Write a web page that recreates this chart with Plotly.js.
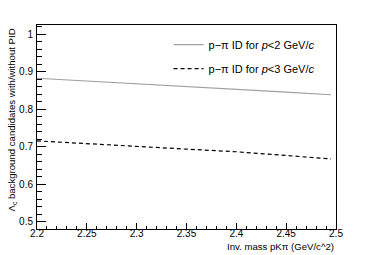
<!DOCTYPE html>
<html><head><meta charset="utf-8">
<script src="https://cdn.plot.ly/plotly-3.0.1.min.js"></script>
<style>body{margin:0;background:#fff}#c{width:374px;height:255px}</style>
</head><body><div id="c"></div>
<script>
var mass = [2.2, 2.25, 2.3, 2.35, 2.4, 2.45, 2.495];
var ratioP2 = [0.882, 0.875, 0.868, 0.860, 0.852, 0.845, 0.838];
var ratioP3 = [0.715, 0.707, 0.700, 0.693, 0.686, 0.676, 0.667];
var name1 = 'p\u2212\u03c0 ID for <i>p</i><2 GeV/<i>c</i>';
var name2 = 'p\u2212\u03c0 ID for <i>p</i><3 GeV/<i>c</i>';
var font = 'Liberation Sans, Arial, sans-serif';
var data = [
  {x: mass, y: ratioP2, mode: 'lines', name: name1, legendgroup: 'a',
   line: {color: '#a0a0a0', width: 1.2}},
  {x: mass, y: ratioP3, mode: 'lines', name: name2, legendgroup: 'b',
   line: {color: '#000', width: 1.2, dash: '4px,3px'}}
];
var layout = {
  width: 374, height: 255,
  margin: {l: 37, r: 38, t: 25, b: 26},
  paper_bgcolor: '#fff', plot_bgcolor: '#fff',
  font: {family: font, size: 10, color: '#000'},
  showlegend: true,
  legend: {x: 0.44, y: 0.975, xanchor: 'left', yanchor: 'top', bgcolor: 'rgba(0,0,0,0)',
           font: {family: font, size: 11, color: '#000'}, tracegroupgap: 5, traceorder: 'grouped'},
  xaxis: {range: [2.2, 2.5], showgrid: false, zeroline: false, showline: true, mirror: true,
          linecolor: '#000', linewidth: 1, ticks: 'inside', ticklen: 6, tickcolor: '#000',
          dtick: 0.05, tick0: 2.2, tickfont: {size: 10, family: font}, ticklabelstandoff: -5,
          minor: {dtick: 0.01, ticks: 'inside', ticklen: 3, tickcolor: '#000'}},
  yaxis: {range: [0.48, 1.024], showgrid: false, zeroline: false, showline: true, mirror: true,
          linecolor: '#000', linewidth: 1, ticks: 'inside', ticklen: 9, tickcolor: '#000',
          dtick: 0.1, tick0: 0.5, tickfont: {size: 10, family: font}, ticklabelstandoff: 1,
          minor: {dtick: 0.02, ticks: 'inside', ticklen: 5, tickcolor: '#000'}},
  annotations: [
    {xref: 'paper', yref: 'paper', x: 1, y: 0, yshift: -10, xanchor: 'right', yanchor: 'top',
     text: 'Inv. mass pK\u03c0 (GeV/c^2)', showarrow: false, font: {size: 9.6, family: font}},
    {xref: 'paper', yref: 'paper', x: 0, xshift: -34, y: 1, yshift: -2, xanchor: 'left', yanchor: 'top',
     textangle: -90, text: '\u039b<sub>c</sub> background candidates with/without PID',
     showarrow: false, font: {size: 9.6, family: font}}
  ]
};
Plotly.newPlot('c', data, layout, {staticPlot: true});
</script></body></html>
